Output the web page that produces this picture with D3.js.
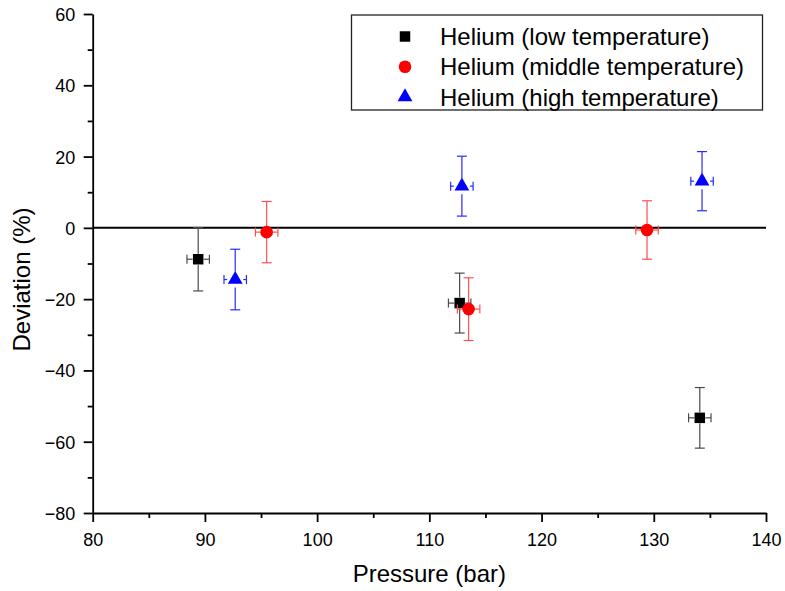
<!DOCTYPE html>
<html>
<head>
<meta charset="utf-8">
<script src="https://cdn.jsdelivr.net/npm/d3@7"></script>
<style>
  html, body { margin: 0; padding: 0; background: #fff; }
  svg { display: block; font-family: "Liberation Sans", Arial, sans-serif; }
</style>
</head>
<body>
<svg id="chart" width="785" height="591"></svg>
<script>
// Deviation of measured helium values against pressure, three temperature levels
const lowPressure   = [89.4, 112.7, 134.1];
const lowDeviation  = [-8.8, -21.1, -53.3];
const lowDevErr     = [8.9, 8.4, 8.5];

const midPressure   = [95.5, 113.5, 129.4];
const midDeviation  = [-1.2, -22.8, -0.6];
const midDevErr     = [8.6, 8.8, 8.2];

const highPressure  = [92.7, 112.9, 134.3];
const highDeviation = [-14.5, 11.7, 13.1];
const highDevErr    = [8.5, 8.4, 8.3];

const pressureErr = 1.0;

const xTicks = [80, 90, 100, 110, 120, 130, 140];
const yTicks = [-80, -60, -40, -20, 0, 20, 40, 60];

const seriesNames = [
  "Helium (low temperature)",
  "Helium (middle temperature)",
  "Helium (high temperature)"
];

const series = [
  { name: seriesNames[0], x: lowPressure,  y: lowDeviation,  e: lowDevErr,  color: "#000000", barColor: "#4a4a4a", shape: d3.symbolSquare,   size: 110, gap: 5.5 },
  { name: seriesNames[1], x: midPressure,  y: midDeviation,  e: midDevErr,  color: "#ff0000", barColor: "#ff5050", shape: d3.symbolCircle,   size: 125, gap: 6 },
  { name: seriesNames[2], x: highPressure, y: highDeviation, e: highDevErr, color: "#0000ff", barColor: "#2a2aff", shape: d3.symbolTriangle, size: 95,  gap: 8 }
];

const svg = d3.select("#chart");
const plotLeft = 92.7, plotRight = 766, plotTop = 14, plotBottom = 513;

const x = d3.scaleLinear().domain([80, 140]).range([plotLeft, plotRight]);
const y = d3.scaleLinear().domain([-80, 60]).range([plotBottom, plotTop]);

// Minor ticks
svg.append("g").attr("transform", `translate(0,${plotBottom})`)
  .call(d3.axisBottom(x).tickValues(d3.range(85, 140, 10)).tickSize(5).tickFormat(""))
  .call(g => g.select(".domain").remove());
svg.append("g").attr("transform", `translate(${plotLeft},0)`)
  .call(d3.axisLeft(y).tickValues(d3.range(-70, 60, 20)).tickSize(5).tickFormat(""))
  .call(g => g.select(".domain").remove());

// Major axes
const ax = svg.append("g").attr("transform", `translate(0,${plotBottom})`)
  .call(d3.axisBottom(x).tickValues(xTicks).tickSize(9).tickSizeOuter(0).tickPadding(11).tickFormat(d3.format("d")));
const ay = svg.append("g").attr("transform", `translate(${plotLeft},0)`)
  .call(d3.axisLeft(y).tickValues(yTicks).tickSize(9).tickSizeOuter(0).tickPadding(8.5).tickFormat(d3.format("d")));

svg.selectAll(".tick line, .domain").attr("stroke", "#000").attr("stroke-width", 1.8);
svg.selectAll(".tick text").attr("fill", "#000").style("font-size", "18px");
ax.selectAll(".tick text").attr("dy", "0.71em");
ay.selectAll(".tick text").attr("dy", "0.36em");

// Zero reference line
svg.append("line")
  .attr("x1", x(80)).attr("x2", x(140))
  .attr("y1", y(0)).attr("y2", y(0))
  .attr("stroke", "#000").attr("stroke-width", 2);

// Error bars and markers
series.forEach(s => {
  const g = svg.append("g");
  s.x.forEach((px, i) => {
    const cx = x(px), cy = y(s.y[i]);
    const yt = y(s.y[i] + s.e[i]), yb = y(s.y[i] - s.e[i]);
    const xl = x(px - pressureErr), xr = x(px + pressureErr);
    const eb = g.append("g").attr("stroke", s.barColor).attr("stroke-width", 1.2).attr("fill", "none");
    // vertical bar with a gap around the marker
    eb.append("line").attr("x1", cx).attr("x2", cx).attr("y1", yt).attr("y2", cy - s.gap);
    eb.append("line").attr("x1", cx).attr("x2", cx).attr("y1", cy + s.gap).attr("y2", yb);
    eb.append("line").attr("x1", cx - 5).attr("x2", cx + 5).attr("y1", yt).attr("y2", yt);
    eb.append("line").attr("x1", cx - 5).attr("x2", cx + 5).attr("y1", yb).attr("y2", yb);
    // horizontal bar with a gap around the marker
    eb.append("line").attr("x1", xl).attr("x2", cx - s.gap).attr("y1", cy).attr("y2", cy);
    eb.append("line").attr("x1", cx + s.gap).attr("x2", xr).attr("y1", cy).attr("y2", cy);
    eb.append("line").attr("x1", xl).attr("x2", xl).attr("y1", cy - 4.5).attr("y2", cy + 4.5);
    eb.append("line").attr("x1", xr).attr("x2", xr).attr("y1", cy - 4.5).attr("y2", cy + 4.5);
    g.append("path")
      .attr("d", d3.symbol().type(s.shape).size(s.size)())
      .attr("transform", `translate(${cx},${cy})`)
      .attr("fill", s.color);
  });
});

// Axis titles
svg.append("text")
  .attr("x", x(110)).attr("y", 582)
  .attr("text-anchor", "middle")
  .style("font-size", "24px")
  .text("Pressure (bar)");
svg.append("text")
  .attr("transform", `translate(30,279.5) rotate(-90)`)
  .attr("text-anchor", "middle")
  .style("font-size", "24px")
  .text("Deviation (%)");

// Legend
const legend = svg.append("g");
legend.append("rect")
  .attr("x", 351.5).attr("y", 15).attr("width", 411).attr("height", 95)
  .attr("fill", "#fff").attr("stroke", "#222").attr("stroke-width", 1.3);
series.forEach((s, i) => {
  const ly = 36.5 + i * 30.2;
  legend.append("path")
    .attr("d", d3.symbol().type(s.shape).size(s.size)())
    .attr("transform", `translate(405,${ly})`)
    .attr("fill", s.color);
  legend.append("text")
    .attr("x", 440).attr("y", ly).attr("dy", "0.36em")
    .style("font-size", "24px")
    .text(s.name);
});
</script>
</body>
</html>
